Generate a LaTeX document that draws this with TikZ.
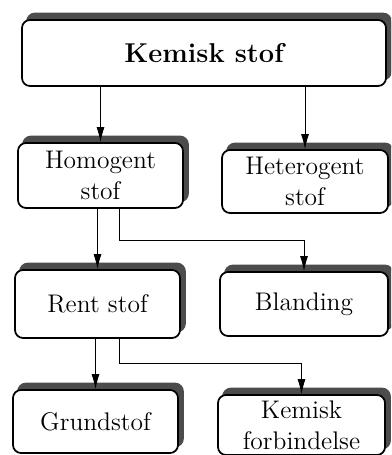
\documentclass[tikz,border=0pt]{standalone}
\usetikzlibrary{arrows.meta,shadows}

\begin{document}
\begin{tikzpicture}[font=\fontsize{14.5}{17.5}\selectfont,
  box/.style={draw,line width=1pt,rounded corners=0.16cm,fill=white,align=center,inner sep=0pt,
    copy shadow={shadow xshift=0.1cm,shadow yshift=0.13cm,fill=black!70,draw=black!70}},
  link/.style={line width=0.5pt,-{Latex[length=3mm,width=1.6mm]}}]

\useasboundingbox (0,0) rectangle (7.82,9.1);
\clip (0,0) rectangle (7.82,9.1);

\node[box,minimum width=7.28cm,minimum height=1.32cm] (stof) at (4.08,8.04) {\fontsize{15.5}{18}\selectfont\bfseries Kemisk stof};

\node[box,minimum width=3.30cm,minimum height=1.30cm] (homo) at (2.01,5.59) {Homogent\\stof};
\node[box,minimum width=3.32cm,minimum height=1.26cm] (hetero) at (6.10,5.47) {Heterogent\\stof};

\node[box,minimum width=3.30cm,minimum height=1.36cm] (rent) at (1.95,3.02) {Rent stof};
\node[box,minimum width=3.36cm,minimum height=1.28cm] (bland) at (6.08,3.02) {Blanding};

\node[box,minimum width=3.30cm,minimum height=1.26cm] (grund) at (1.91,0.67) {Grundstof};
\node[box,minimum width=3.34cm,minimum height=1.20cm] (forb) at (6.03,0.60) {Kemisk\\forbindelse};

\coordinate (h1) at ([xshift=0.37cm]homo.south);
\coordinate (r1) at ([xshift=0.43cm]rent.south);

\draw[link] (homo |- stof.south) -- (homo.north);
\draw[link] (hetero |- stof.south) -- (hetero.north);
\draw[link] (rent |- homo.south) -- (rent.north);
\draw[link] (h1) -- ++(0,-0.64) -| (bland.north);
\draw[link] (grund |- rent.south) -- (grund.north);
\draw[link] (r1) -- ++(0,-0.5) -| (forb.north);

\end{tikzpicture}
\end{document}
